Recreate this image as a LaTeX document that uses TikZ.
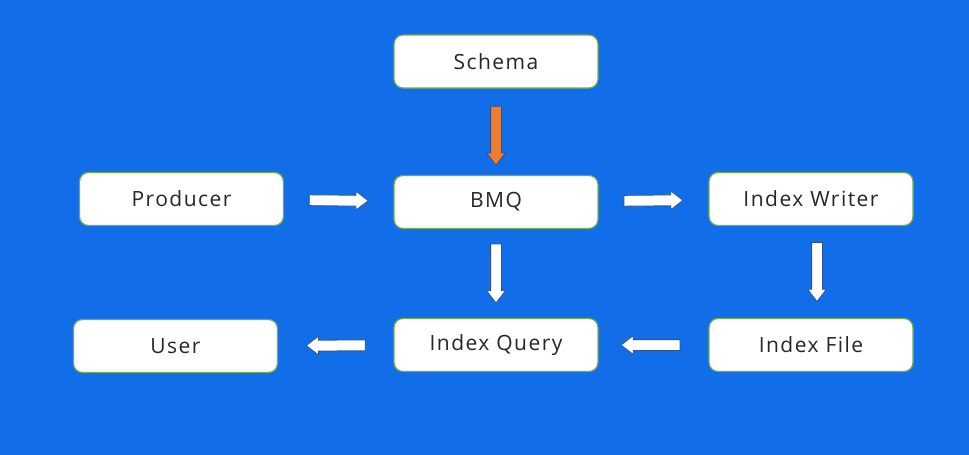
\documentclass[tikz,border=0pt]{standalone}
\usepackage{fontspec}
\setmainfont{Open Sans}[LetterSpace=7]
\usepackage{tikz}
\usetikzlibrary{shapes.arrows, calc}
\definecolor{bgblue}   {RGB}{18, 110, 232}
\definecolor{boxgreen} {RGB}{112, 173, 71}
\definecolor{arrline}  {RGB}{47,  82, 143}
\definecolor{schorange}{RGB}{237, 125, 49}

\tikzset{
	block/.style={draw=boxgreen, line width=1.2pt, fill=white, rounded corners=9pt,
		minimum width=204pt, minimum height=53pt, inner sep=0pt,
		text=black!85, font=\fontsize{21}{24}\selectfont},
	flow/.style={single arrow, draw=arrline, line width=0.8pt, fill=white,
		minimum height=59pt, inner xsep=0pt, inner ysep=5pt,
		single arrow head extend=4pt, single arrow tip angle=75,
		sloped, allow upside down, xshift=-3.5pt}
}

\begin{document}
\begin{tikzpicture}[x=1pt, y=-1pt]
	\fill[bgblue] (0,0) rectangle (969,455);
	\useasboundingbox (0,0) rectangle (969,455);
	% boxes
	\node[block] (schema) at (496,61.5)  {Schema};
	\node[block] (prod)   at (181.5,199) {Producer};
	\node[block] (bmq)    at (496,202)   {BMQ};
	\node[block] (iw)     at (811,199)   {Index Writer};
	\node[block] (user)   at (175.5,346) {User};
	\node[block] (iq)     at (496,345)   {Index Query};
	\node[block] (if)     at (811,345)   {Index File};
	% arrows
	\path ([yshift=-8pt]schema.south) -- node[flow, fill=schorange] {} (bmq.north);
	\path (prod) -- node[flow] {} (bmq);
	\path (bmq) -- node[flow] {} (iw);
	\path (bmq.south) -- node[flow] {} (iq.north);
	\path ([xshift=6pt]iw.south) -- node[flow] {} ([xshift=6pt]if.north);
	\path (if) -- node[flow] {} ([xshift=-6pt]iq.east);
	\path (iq) -- node[flow] {} (user);
\end{tikzpicture}
\end{document}
